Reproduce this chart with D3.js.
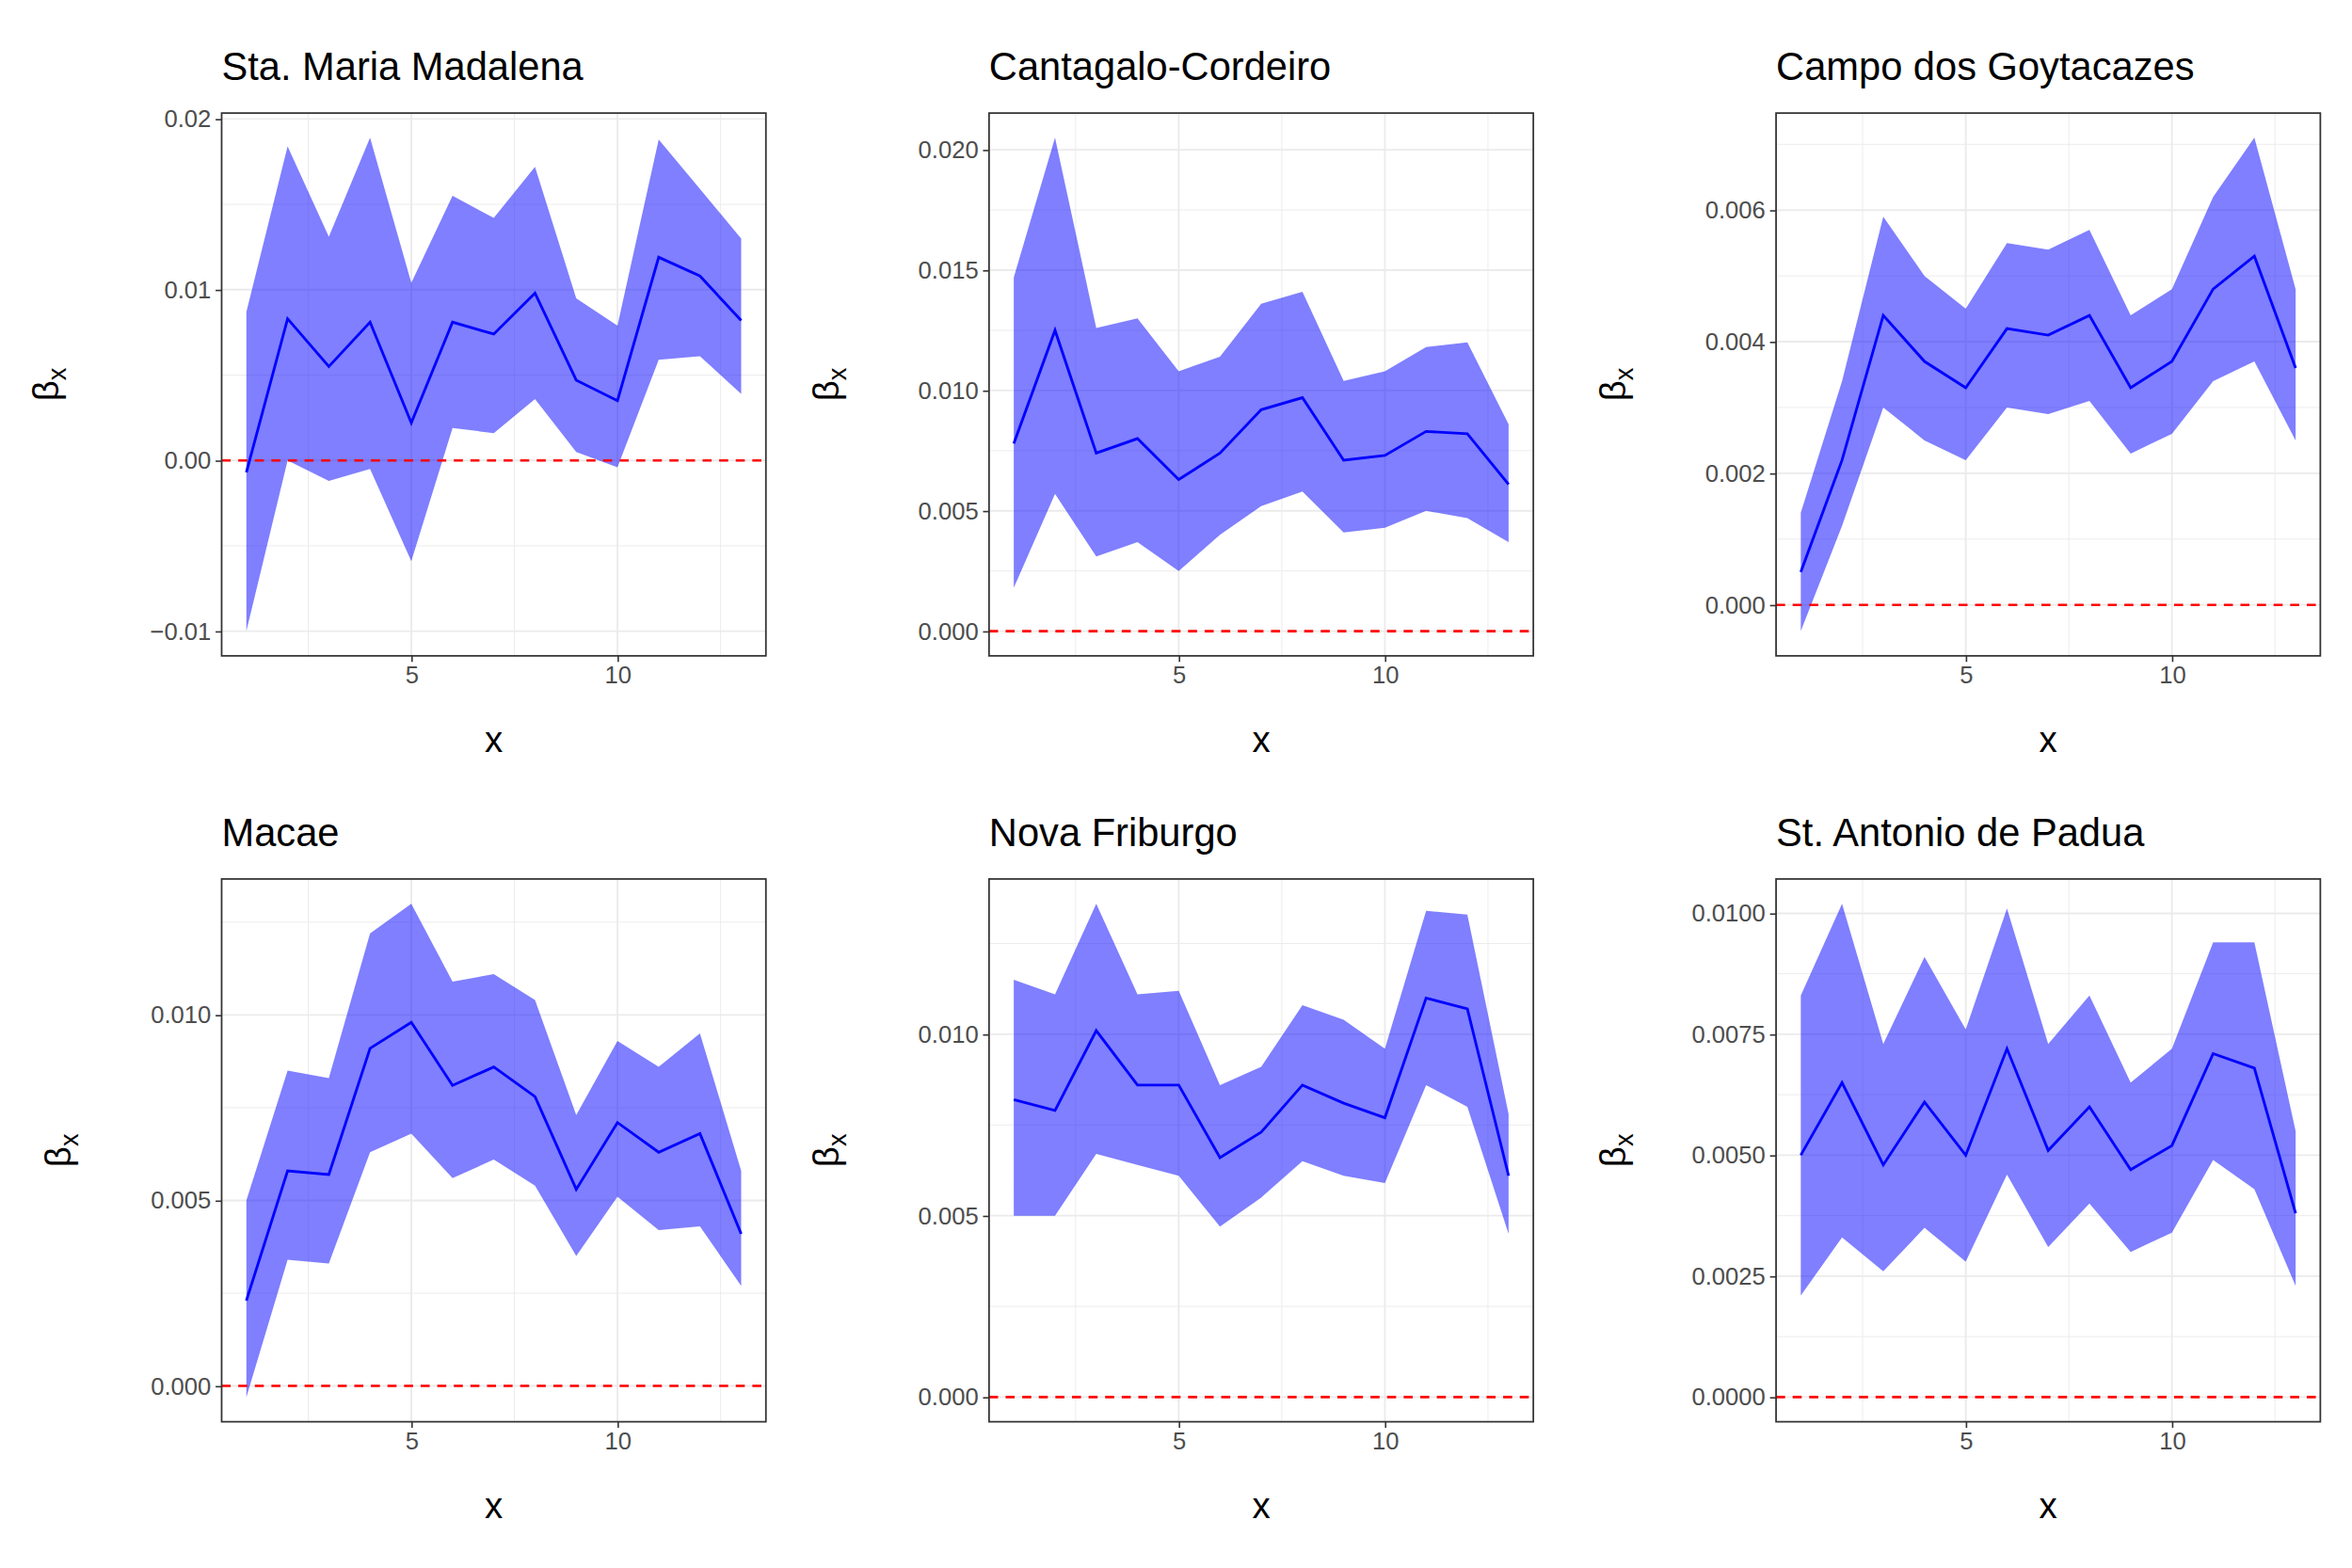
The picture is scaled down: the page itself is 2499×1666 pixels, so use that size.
<!DOCTYPE html>
<html><head><meta charset="utf-8">
<script src="https://cdn.jsdelivr.net/npm/d3@7"></script>
<style>body{margin:0;background:#fff}</style>
</head><body>
<div id="chart"></div>
<script>
var xs = [1,2,3,4,5,6,7,8,9,10,11,12,13];
var titles = ["Sta. Maria Madalena","Cantagalo-Cordeiro","Campo dos Goytacazes","Macae","Nova Friburgo","St. Antonio de Padua"];
var means = [
  [-0.0007,0.0083,0.0055,0.0081,0.0022,0.0081,0.0074,0.0098,0.0047,0.0035,0.0119,0.0108,0.0082],
  [0.0078,0.0125,0.0074,0.0080,0.0063,0.0074,0.0092,0.0097,0.0071,0.0073,0.0083,0.0082,0.0061],
  [0.0005,0.0022,0.0044,0.0037,0.0033,0.0042,0.0041,0.0044,0.0033,0.0037,0.0048,0.0053,0.0036],
  [0.0023,0.0058,0.0057,0.0091,0.0098,0.0081,0.0086,0.0078,0.0053,0.0071,0.0063,0.0068,0.0041],
  [0.0082,0.0079,0.0101,0.0086,0.0086,0.0066,0.0073,0.0086,0.0081,0.0077,0.0110,0.0107,0.0061],
  [0.0050,0.0065,0.0048,0.0061,0.0050,0.0072,0.0051,0.0060,0.0047,0.0052,0.0071,0.0068,0.0038]
];
var uppers = [
  [0.0087,0.0184,0.0131,0.0189,0.0104,0.0155,0.0142,0.0172,0.0095,0.0079,0.0188,0.0159,0.0130],
  [0.0147,0.0205,0.0126,0.0130,0.0108,0.0114,0.0136,0.0141,0.0104,0.0108,0.0118,0.0120,0.0086],
  [0.0014,0.0034,0.0059,0.0050,0.0045,0.0055,0.0054,0.0057,0.0044,0.0048,0.0062,0.0071,0.0048],
  [0.0050,0.0085,0.0083,0.0122,0.0130,0.0109,0.0111,0.0104,0.0073,0.0093,0.0086,0.0095,0.0058],
  [0.0115,0.0111,0.0136,0.0111,0.0112,0.0086,0.0091,0.0108,0.0104,0.0096,0.0134,0.0133,0.0078],
  [0.0083,0.0102,0.0073,0.0091,0.0076,0.0101,0.0073,0.0083,0.0065,0.0072,0.0094,0.0094,0.0055]
];
var lowers = [
  [-0.0100,0.0000,-0.0012,-0.0005,-0.0059,0.0019,0.0016,0.0036,0.0005,-0.0004,0.0059,0.0061,0.0039],
  [0.0018,0.0057,0.0031,0.0037,0.0025,0.0040,0.0052,0.0058,0.0041,0.0043,0.0050,0.0047,0.0037],
  [-0.0004,0.0012,0.0030,0.0025,0.0022,0.0030,0.0029,0.0031,0.0023,0.0026,0.0034,0.0037,0.0025],
  [-0.0003,0.0034,0.0033,0.0063,0.0068,0.0056,0.0061,0.0054,0.0035,0.0051,0.0042,0.0043,0.0027],
  [0.0050,0.0050,0.0067,0.0064,0.0061,0.0047,0.0055,0.0065,0.0061,0.0059,0.0086,0.0080,0.0045],
  [0.0021,0.0033,0.0026,0.0035,0.0028,0.0046,0.0031,0.0040,0.0030,0.0034,0.0049,0.0043,0.0023]
];
var yTicks = [
  [-0.01,0,0.01,0.02],
  [0,0.005,0.01,0.015,0.02],
  [0,0.002,0.004,0.006],
  [0,0.005,0.01],
  [0,0.005,0.01],
  [0,0.0025,0.005,0.0075,0.01]
];
var yFmt = [".2f",".3f",".3f",".3f",".3f",".4f"];
var xTicks = [5,10];

var lefts = [147,656,1178], tops = [75,583], pw = 361, ph = 360;

var svg = d3.select('#chart').append('svg')
  .attr('width',2499).attr('height',1666)
  .attr('viewBox','0 0 1560 1040');

titles.forEach(function(t,i){
  var g = svg.append('g').attr('transform',`translate(${lefts[i%3]},${tops[Math.floor(i/3)]})`);
  var lo = d3.min(lowers[i].concat([0])), hi = d3.max(uppers[i]);
  var pad = (hi-lo)*0.05;
  var y = d3.scaleLinear().domain([lo-pad,hi+pad]).range([ph,0]);
  var x = d3.scaleLinear().domain([1-0.6,13+0.6]).range([0,pw]);
  var yt = yTicks[i];
  var ym = [];
  var step = yt[1]-yt[0];
  for (var v=yt[0]-step/2; v<=y.domain()[1]; v+=step) if (v>=y.domain()[0]) ym.push(v);
  var xm = [2.5,7.5,12.5];
  g.selectAll('.ym').data(ym).enter().append('line')
    .attr('x1',0).attr('x2',pw).attr('y1',d=>y(d)).attr('y2',d=>y(d))
    .attr('stroke','#ebebeb').attr('stroke-width',0.6);
  g.selectAll('.xm').data(xm).enter().append('line')
    .attr('y1',0).attr('y2',ph).attr('x1',d=>x(d)).attr('x2',d=>x(d))
    .attr('stroke','#ebebeb').attr('stroke-width',0.6);
  g.selectAll('.yg').data(yt).enter().append('line')
    .attr('x1',0).attr('x2',pw).attr('y1',d=>y(d)).attr('y2',d=>y(d))
    .attr('stroke','#ebebeb').attr('stroke-width',1.2);
  g.selectAll('.xg').data(xTicks).enter().append('line')
    .attr('y1',0).attr('y2',ph).attr('x1',d=>x(d)).attr('x2',d=>x(d))
    .attr('stroke','#ebebeb').attr('stroke-width',1.2);

  var area = d3.area().x((d,j)=>x(xs[j])).y0((d,j)=>y(lowers[i][j])).y1((d,j)=>y(uppers[i][j]));
  g.append('path').datum(xs).attr('d',area).attr('fill','#0000ff').attr('fill-opacity',0.5);
  g.append('line').attr('x1',0).attr('x2',pw).attr('y1',y(0)).attr('y2',y(0))
    .attr('stroke','#ff0000').attr('stroke-width',1.6).attr('stroke-dasharray','6,5');
  var line = d3.line().x((d,j)=>x(xs[j])).y(d=>y(d));
  g.append('path').datum(means[i]).attr('d',line).attr('fill','none').attr('stroke','#0000ff').attr('stroke-width',1.8);

  g.append('rect').attr('width',pw).attr('height',ph).attr('fill','none').attr('stroke','#333').attr('stroke-width',1.1);

  var ya = g.append('g').call(d3.axisLeft(y).tickValues(yt).tickFormat(d3.format(yFmt[i])).tickSize(4).tickPadding(3));
  var xa = g.append('g').attr('transform',`translate(0,${ph})`).call(d3.axisBottom(x).tickValues(xTicks).tickSize(4).tickPadding(3));
  [ya,xa].forEach(function(a){
    a.select('.domain').remove();
    a.selectAll('line').attr('stroke','#333');
    a.selectAll('text').attr('fill','#4d4d4d').style('font-family','Liberation Sans, Arial').style('font-size','16px');
  });

  g.append('text').attr('x',0).attr('y',-22).text(t)
    .style('font-family','Liberation Sans, Arial').style('font-size','26px').attr('fill','#000');
  g.append('text').attr('x',pw/2).attr('y',ph+64).attr('text-anchor','middle').text('x')
    .style('font-family','Liberation Sans, Arial').style('font-size','24px');
  var yl = g.append('text').attr('transform',`translate(${i%3===2?-100:(i===0?-108:-100)},${ph/2}) rotate(-90)`)
    .attr('text-anchor','middle').style('font-family','Liberation Sans, Arial').style('font-size','24px');
  yl.append('tspan').text('β');
  yl.append('tspan').attr('dy',5).style('font-size','17px').text('x');
});
</script>
</body></html>
